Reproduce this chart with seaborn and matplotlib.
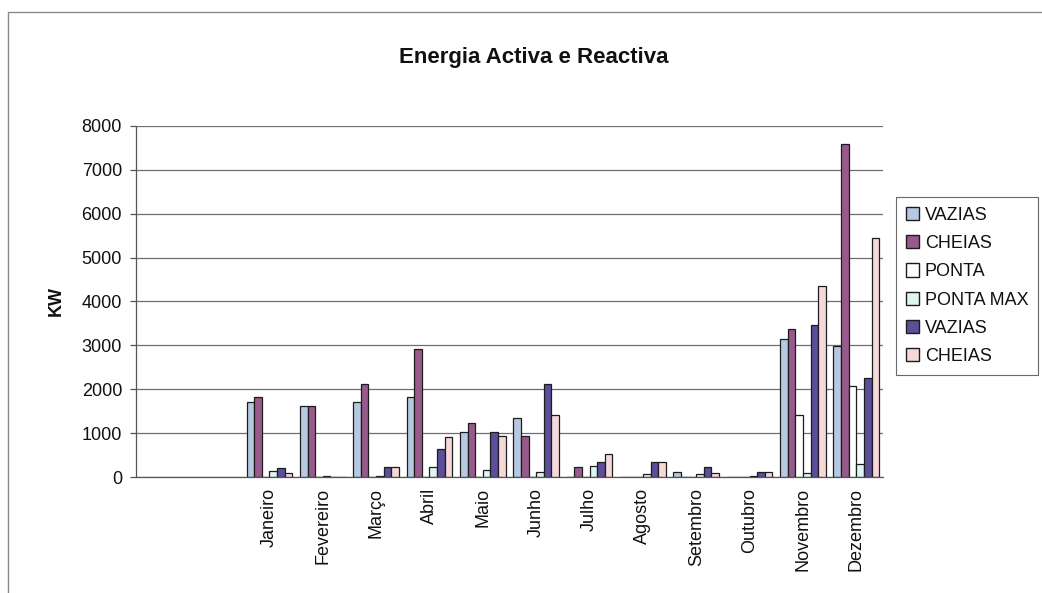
import matplotlib
matplotlib.use("Agg")
import matplotlib.pyplot as plt
from matplotlib.patches import Patch, Rectangle
import seaborn as sns
import pandas as pd
import numpy as np

# Category axis: two unused slots before the twelve months
categories = ["", " ", "Janeiro", "Fevereiro", "Março", "Abril", "Maio", "Junho",
              "Julho", "Agosto", "Setembro", "Outubro", "Novembro", "Dezembro"]
months = categories[2:]

series_names = ["VAZIAS", "CHEIAS", "PONTA", "PONTA MAX", "VAZIAS", "CHEIAS"]

vazias =    [1720, 1620, 1720, 1830, 1030, 1340,   0,   0, 120,   0, 3140, 2980]
cheias =    [1820, 1620, 2120, 2920, 1240,  930, 230,   0,   0,   0, 3370, 7580]
ponta =     [   0,    0,    0,    0,    0,    0,   0,   0,   0,   0, 1410, 2070]
ponta_max = [ 130,   30,   20,  230,  160,  120, 250,  60,  60,  30,  100,  300]
vazias_r =  [ 210,   10,  220,  630, 1030, 2130, 340, 340, 230, 110, 3460, 2250]
cheias_r =  [  90,    0,  220,  920,  930, 1410, 520, 340,  80, 110, 4350, 5440]

y_ticks = [0, 1000, 2000, 3000, 4000, 5000, 6000, 7000, 8000]

colors = ["#b6c9e0", "#985a8c", "#ffffff", "#def5f3", "#5b4e9b", "#f6d8d8"]

all_series = [vazias, cheias, ponta, ponta_max, vazias_r, cheias_r]
rows = []
for k, vals in enumerate(all_series):
    for m, v in zip(months, vals):
        rows.append({"mes": m, "serie": k, "kw": v})
df = pd.DataFrame(rows)

sns.set_theme(style="white")
plt.rcParams["font.family"] = ["Liberation Sans", "DejaVu Sans"]
plt.rcParams["text.color"] = "#111111"
plt.rcParams["xtick.color"] = "#111111"
plt.rcParams["ytick.color"] = "#111111"
plt.rcParams["axes.labelcolor"] = "#111111"

fig = plt.figure(figsize=(10.42, 5.93), dpi=100)
ax = fig.add_axes([136 / 1042, 1 - 477 / 593, (883 - 136) / 1042, (477 - 126) / 593])

sns.barplot(data=df, x="mes", y="kw", hue="serie", order=categories,
            hue_order=list(range(6)), palette=colors, width=6 / 7, gap=0,
            edgecolor="#1c1c1c", linewidth=0.9, errorbar=None, legend=False,
            saturation=1, ax=ax)

ax.set_xlim(-0.5, len(categories) - 0.5)
ax.set_ylim(0, 8000)
ax.set_yticks(y_ticks)
ax.set_yticklabels([str(t) for t in y_ticks], fontsize=13)
ax.yaxis.grid(True, color="#6f6f6f", linewidth=0.9)
ax.set_axisbelow(True)

ax.set_xticks(range(len(categories)))
ax.set_xticklabels(categories, rotation=90, fontsize=13, va="top", ha="center")
ax.set_xticks(np.arange(len(categories) + 1) - 0.5, minor=True)
ax.tick_params(axis="x", which="major", length=0, pad=8)
ax.tick_params(axis="x", which="minor", length=5, width=0.9, color="#555555", direction="out")
ax.tick_params(axis="y", length=4, width=0.9, color="#555555", labelcolor="#111111",
               direction="out", left=True, pad=6)

for side in ["top", "right"]:
    ax.spines[side].set_visible(False)
for side in ["left", "bottom"]:
    ax.spines[side].set_color("#555555")
    ax.spines[side].set_linewidth(0.9)

ax.set_xlabel("")
ax.set_ylabel("KW", fontsize=13, fontweight="bold", labelpad=12)

fig.text(534 / 1042, 1 - 58 / 593, "Energia Activa e Reactiva", ha="center", va="center",
         fontsize=16, fontweight="bold")

handles = [Patch(facecolor=c, edgecolor="#1c1c1c", linewidth=1.0) for c in colors]
leg = fig.legend(handles, series_names, loc="upper left",
                 bbox_to_anchor=(896 / 1042, 1 - 197 / 593), fontsize=13,
                 frameon=True, fancybox=False, edgecolor="#444444",
                 handlelength=0.75, handleheight=0.75, handletextpad=0.3,
                 labelspacing=0.62, borderpad=0.55, borderaxespad=0)
leg.get_frame().set_linewidth(0.8)

# Chart-area frame
fig.patches.append(Rectangle((8 / 1042, -0.05), 1.1, 1 - 12 / 593 + 0.05,
                             transform=fig.transFigure, fill=False,
                             edgecolor="#8a8a8a", linewidth=1.0))

fig.savefig("out.png", dpi=100)
